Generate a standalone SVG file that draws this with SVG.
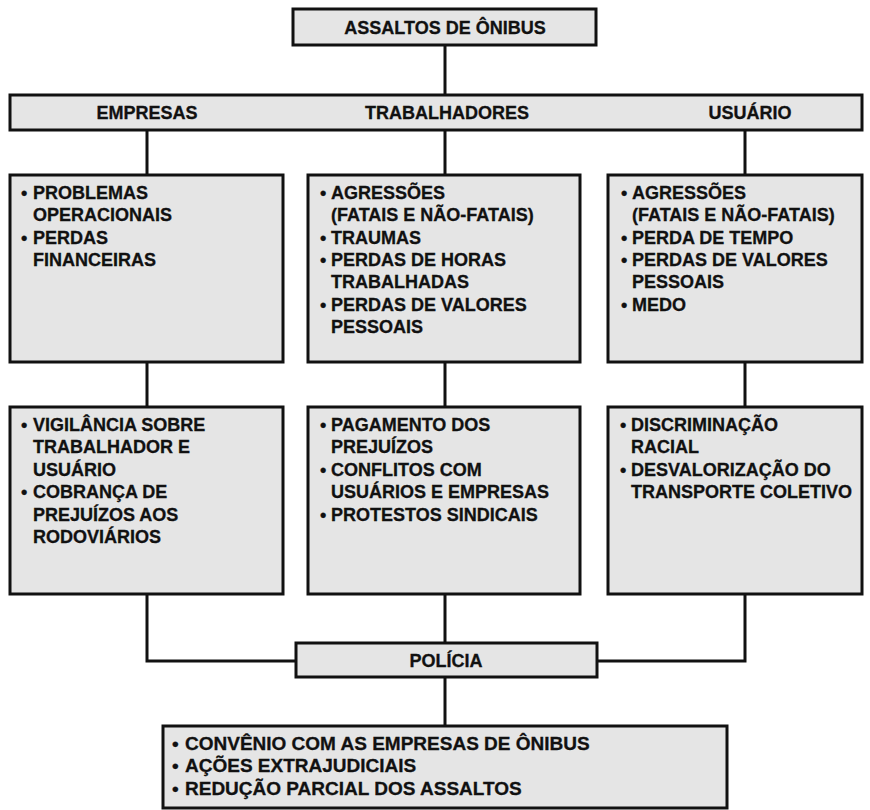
<svg xmlns="http://www.w3.org/2000/svg" width="870" height="810" viewBox="0 0 870 810">
<style>
.box{fill:#e5e5e5;stroke:#111;stroke-width:3}
.ln{stroke:#111;stroke-width:3;fill:none}
text{font-family:"Liberation Sans",Arial,sans-serif;font-weight:bold;font-size:18px;fill:#111;stroke:#111;stroke-width:0.3}
.c{text-anchor:middle}
.big{font-size:19px}
</style>
<rect width="870" height="810" fill="#fff"/>
<g id="connectors">
<path class="ln" d="M445 45V95"/>
<path class="ln" d="M147 130V175M445 130V175M745 130V175"/>
<path class="ln" d="M147 362V407M445 362V407M745 362V407"/>
<path class="ln" d="M147 594V661H296M745 594V661H597M445 594V643"/>
<path class="ln" d="M445 677V726"/>
</g>
<g id="assaltos">
<rect class="box" x="293" y="9" width="303" height="36"/>
<text class="c" x="445" y="33.5">ASSALTOS DE ÔNIBUS</text>
</g>
<g id="band">
<rect class="box" x="10" y="95" width="852" height="35"/>
<text class="c" x="147" y="119">EMPRESAS</text>
<text class="c" x="447" y="119">TRABALHADORES</text>
<text class="c" x="750" y="119">USUÁRIO</text>
</g>
<g id="empresas-1">
<rect class="box" x="10" y="175" width="273" height="187"/>
<text y="199"><tspan x="21">•</tspan><tspan x="33">PROBLEMAS</tspan></text>
<text x="33" y="221.3">OPERACIONAIS</text>
<text y="243.6"><tspan x="21">•</tspan><tspan x="33">PERDAS</tspan></text>
<text x="33" y="265.9">FINANCEIRAS</text>
</g>
<g id="trabalhadores-1">
<rect class="box" x="308" y="175" width="272" height="187"/>
<text y="199"><tspan x="320">•</tspan><tspan x="331">AGRESSÕES</tspan></text>
<text x="331" y="221.3">(FATAIS E NÃO-FATAIS)</text>
<text y="243.6"><tspan x="320">•</tspan><tspan x="331">TRAUMAS</tspan></text>
<text y="265.9"><tspan x="320">•</tspan><tspan x="331">PERDAS DE HORAS</tspan></text>
<text x="331" y="288.2">TRABALHADAS</text>
<text y="310.5"><tspan x="320">•</tspan><tspan x="331">PERDAS DE VALORES</tspan></text>
<text x="331" y="332.8">PESSOAIS</text>
</g>
<g id="usuario-1">
<rect class="box" x="608" y="175" width="254" height="187"/>
<text y="199"><tspan x="621">•</tspan><tspan x="632">AGRESSÕES</tspan></text>
<text x="632" y="221.3">(FATAIS E NÃO-FATAIS)</text>
<text y="243.6"><tspan x="621">•</tspan><tspan x="632">PERDA DE TEMPO</tspan></text>
<text y="265.9"><tspan x="621">•</tspan><tspan x="632">PERDAS DE VALORES</tspan></text>
<text x="632" y="288.2">PESSOAIS</text>
<text y="310.5"><tspan x="621">•</tspan><tspan x="632">MEDO</tspan></text>
</g>
<g id="empresas-2">
<rect class="box" x="10" y="407" width="273" height="187"/>
<text y="431"><tspan x="21">•</tspan><tspan x="33">VIGILÂNCIA SOBRE</tspan></text>
<text x="33" y="453.4">TRABALHADOR E</text>
<text x="33" y="475.8">USUÁRIO</text>
<text y="498.2"><tspan x="21">•</tspan><tspan x="33">COBRANÇA DE</tspan></text>
<text x="33" y="520.6">PREJUÍZOS AOS</text>
<text x="33" y="543">RODOVIÁRIOS</text>
</g>
<g id="trabalhadores-2">
<rect class="box" x="308" y="407" width="272" height="187"/>
<text y="431"><tspan x="320">•</tspan><tspan x="331">PAGAMENTO DOS</tspan></text>
<text x="331" y="453.4">PREJUÍZOS</text>
<text y="475.8"><tspan x="320">•</tspan><tspan x="331">CONFLITOS COM</tspan></text>
<text x="331" y="498.2">USUÁRIOS E EMPRESAS</text>
<text y="520.6"><tspan x="320">•</tspan><tspan x="331">PROTESTOS SINDICAIS</tspan></text>
</g>
<g id="usuario-2">
<rect class="box" x="608" y="407" width="254" height="187"/>
<text y="431"><tspan x="620">•</tspan><tspan x="631">DISCRIMINAÇÃO</tspan></text>
<text x="631" y="453.4">RACIAL</text>
<text y="475.8"><tspan x="620">•</tspan><tspan x="631">DESVALORIZAÇÃO DO</tspan></text>
<text x="631" y="498.2">TRANSPORTE COLETIVO</text>
</g>
<g id="policia">
<rect class="box" x="296" y="643" width="301" height="34"/>
<text class="c" x="446" y="666.5">POLÍCIA</text>
</g>
<g id="policia-acoes">
<rect class="box" x="163" y="726" width="564" height="82"/>
<text class="big" y="750"><tspan x="172">•</tspan><tspan x="185">CONVÊNIO COM AS EMPRESAS DE ÔNIBUS</tspan></text>
<text class="big" y="772.3"><tspan x="172">•</tspan><tspan x="185">AÇÕES EXTRAJUDICIAIS</tspan></text>
<text class="big" y="794.6"><tspan x="172">•</tspan><tspan x="185">REDUÇÃO PARCIAL DOS ASSALTOS</tspan></text>
</g>
</svg>
